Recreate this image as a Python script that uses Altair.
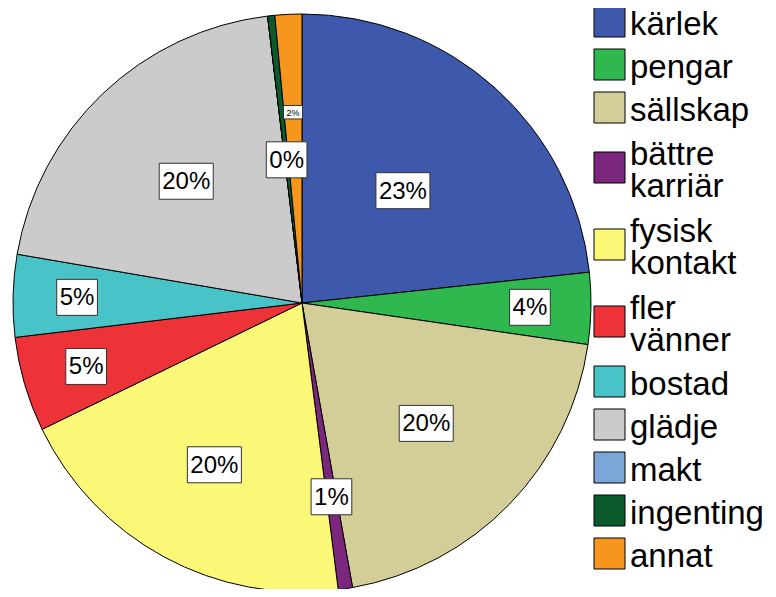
import altair as alt
import pandas as pd

categories = ["kärlek", "pengar", "sällskap", "bättre karriär", "fysisk kontakt",
              "fler vänner", "bostad", "glädje", "makt", "ingenting", "annat"]
values = [23.3, 4.0, 19.9, 0.8, 19.8, 5.3, 4.6, 20.4, 0.0, 0.4, 1.5]
labels = ["23%", "4%", "20%", "1%", "20%", "5%", "5%", "20%", "", "0%", "2%"]
colors = ["#3E58AC", "#2FB84D", "#D3CE97", "#7B277D", "#FBF877", "#EE3338",
          "#48C3C7", "#CBCBCB", "#7BA7D8", "#0B5A2B", "#F7961D"]

# label placement style (distance from centre in px, font size)
label_dist = {"kärlek": 151, "pengar": 228, "sällskap": 173, "bättre karriär": 196,
              "fysisk kontakt": 184, "fler vänner": 225, "bostad": 225, "glädje": 168,
              "makt": 0, "ingenting": 144, "annat": 191}
label_size = {c: 24 for c in categories}
label_size["annat"] = 9

df = pd.DataFrame({"cat": categories, "value": values, "label": labels})
df["idx"] = range(len(df))
df["dist"] = df["cat"].map(label_dist)
df["fs"] = df["cat"].map(label_size)

W, H = 760, 581
CX, CY, R = 294, 295, 289
LEG_X, LEG_Y0, SYM, LH = 586, -8, 31, 32

xs = alt.Scale(domain=[0, W], range=[0, W], nice=False, zero=False)
ys = alt.Scale(domain=[0, H], range=[0, H], nice=False, zero=False)

color = alt.Color("cat:N", scale=alt.Scale(domain=categories, range=colors),
                  legend=None)

base = alt.Chart(df)

pie = base.mark_arc(outerRadius=R, stroke="black", strokeWidth=1).encode(
    theta=alt.Theta("value:Q", stack=True),
    order=alt.Order("idx:Q"),
    color=color,
    x=alt.value(CX), y=alt.value(CY),
)

lab = base.transform_filter("datum.label != ''").transform_joinaggregate(
    total="sum(value)"
).transform_window(
    cum="sum(value)", sort=[alt.SortField("idx")]
).transform_calculate(
    mid="2*PI*(datum.cum - datum.value/2)/datum.total",
).transform_calculate(
    px=f"{CX} + datum.dist*sin(datum.mid)",
    py=f"{CY} - datum.dist*cos(datum.mid)",
    bw="datum.fs*(0.556*(length(datum.label)-1) + 0.889) + 6",
    bh="datum.fs*1.5",
).transform_calculate(
    x1="datum.px - datum.bw/2", x2="datum.px + datum.bw/2",
    y1="datum.py - datum.bh/2", y2="datum.py + datum.bh/2",
)

boxes = lab.mark_rect(fill="white", stroke="#333333", strokeWidth=1).encode(
    x=alt.X("x1:Q", scale=xs, axis=None), x2="x2:Q",
    y=alt.Y("y1:Q", scale=ys, axis=None), y2="y2:Q",
)

texts = lab.mark_text(font="Liberation Sans", color="black", align="center",
                      baseline="middle", dy=1).encode(
    x=alt.X("px:Q", scale=xs, axis=None),
    y=alt.Y("py:Q", scale=ys, axis=None),
    text="label:N",
    size=alt.Size("fs:Q", scale=None),
)

# hand-built legend (entries with two-word names wrap onto two lines)
leg = base.transform_calculate(
    nl="indexof(datum.cat, ' ') >= 0 ? 2 : 1"
).transform_calculate(
    h="datum.nl == 2 ? 77 : 43"
).transform_window(
    cumh="sum(h)", sort=[alt.SortField("idx")]
).transform_calculate(
    ly=f"datum.cumh - datum.h/2 + {LEG_Y0}"
).transform_calculate(
    ly1=f"datum.ly - {SYM}/2", ly2=f"datum.ly + {SYM}/2",
    ty=f"datum.ly - (datum.nl - 1)*{LH}/2",
)

leg_sym = leg.mark_rect(stroke="black", strokeWidth=1).encode(
    x=alt.value(LEG_X), x2=alt.value(LEG_X + SYM),
    y=alt.Y("ly1:Q", scale=ys, axis=None), y2="ly2:Q",
    color=color,
)

leg_txt = leg.mark_text(font="Liberation Sans", fontSize=33, color="black",
                        align="left", baseline="middle", lineBreak=" ",
                        lineHeight=LH, dy=3).encode(
    x=alt.value(LEG_X + SYM + 5),
    y=alt.Y("ty:Q", scale=ys, axis=None),
    text="cat:N",
)

chart = alt.layer(pie, boxes, texts, leg_sym, leg_txt).properties(
    width=W, height=H, padding=0, autosize=alt.AutoSizeParams(type="none"),
    background="white"
).configure_view(stroke=None)

chart.save("out.html", embed_options={"renderer": "svg", "actions": False})
